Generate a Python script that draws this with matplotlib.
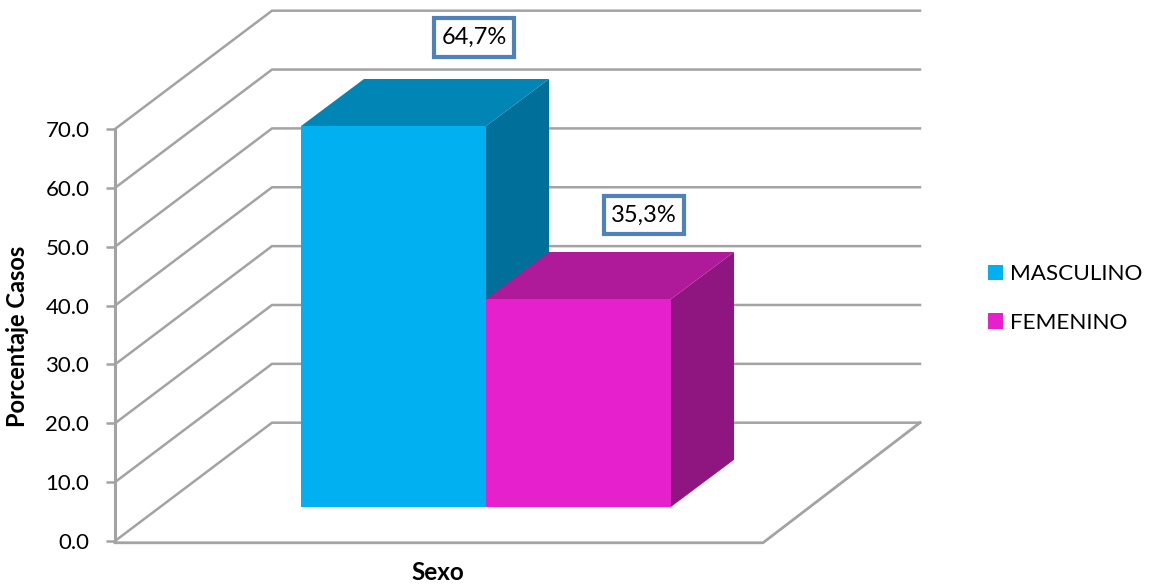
import matplotlib
matplotlib.use('Agg')
import matplotlib.pyplot as plt
from matplotlib.patches import FancyBboxPatch, Patch, Polygon

plt.rcParams['font.family'] = ['Lato', 'DejaVu Sans']

categorias = ['MASCULINO', 'FEMENINO']
porcentajes = [64.7, 35.3]
etiquetas = ['64,7%', '35,3%']
marcas_y = [0, 10, 20, 30, 40, 50, 60, 70]

# Colores de cada barra: frente, tapa y lateral
frente = ['#00B0F0', '#E520CC']
tapa = ['#0085B5', '#AE1A99']
lateral = ['#006F9A', '#8F1580']
gris = '#A3A3A3'

W, H = 1155, 585
fig = plt.figure(figsize=(W / 100, H / 100), dpi=100)

# El eje x va en pixeles, el eje y en porcentaje
ax = fig.add_axes([115 / W, 1 - 541 / H, 648 / W, 412 / H])
ax.set_xlim(0, 648)
ax.set_ylim(0, 70)

# Profundidad de las paredes y de las barras
fondo_x, fondo_y = 157, 20.1
prof_x, prof_y = 63, 8
base = 5.8
ancho = 185
inicio = 186
lab_dx = [173, 158]
lab_dy = [20.9, 20.1]
caja_w, caja_h = 80, 6.6

# Paredes del grafico
for v in marcas_y:
    ax.plot([0, fondo_x, 648 + fondo_x], [v, v + fondo_y, v + fondo_y],
            color=gris, lw=1.8, clip_on=False, zorder=1, solid_joinstyle='miter')
ax.plot([0, 648, 648 + fondo_x], [-0.3, -0.3, fondo_y],
        color=gris, lw=2.0, clip_on=False, zorder=1)

# Barras en perspectiva
for i, valor in enumerate(porcentajes):
    x0 = inicio + i * ancho
    x1 = x0 + ancho
    top = base + valor
    ax.add_patch(Polygon([(x1, base), (x1 + prof_x, base + prof_y),
                          (x1 + prof_x, top + prof_y), (x1, top)],
                         fc=lateral[i], ec='none', clip_on=False, zorder=2 + i))
    ax.add_patch(Polygon([(x0, top), (x1, top), (x1 + prof_x, top + prof_y),
                          (x0 + prof_x, top + prof_y)],
                         fc=tapa[i], ec='none', clip_on=False, zorder=2 + i))
    ax.add_patch(Polygon([(x0, base), (x1, base), (x1, top), (x0, top)],
                         fc=frente[i], ec='none', clip_on=False, zorder=2 + i))
    # Etiqueta con su caja azul
    lx, ly = x0 + lab_dx[i], valor + lab_dy[i]
    ax.add_patch(FancyBboxPatch((lx - caja_w / 2, ly - caja_h / 2), caja_w, caja_h,
                                boxstyle='square,pad=0', fc='white', ec='#4F81BD', lw=3,
                                clip_on=False, zorder=5))
    ax.text(lx, ly, etiquetas[i], ha='center', va='center',
            fontsize=17, color='black', zorder=6)

ax.set_xticks([])
ax.set_yticks(marcas_y)
ax.set_yticklabels([f'{v:.1f}' for v in marcas_y], fontsize=16, color='black')
ax.tick_params(axis='y', length=6.5, width=1.8, color=gris, pad=12)
ax.patch.set_alpha(0)
for lado in ['top', 'right', 'bottom']:
    ax.spines[lado].set_visible(False)
ax.spines['left'].set_color(gris)
ax.spines['left'].set_linewidth(2.2)

fig.text(18 / W, 1 - 336 / H, 'Porcentaje Casos', rotation=90, ha='center', va='center',
         fontsize=17, fontweight='bold')
fig.text(438 / W, 1 - 572 / H, 'Sexo', ha='center', va='center',
         fontsize=17.5, fontweight='bold')

# Leyenda
handles = [Patch(fc=c, ec='none') for c in frente]
fig.legend(handles, categorias, loc='center left', bbox_to_anchor=(979 / W, 1 - 298.5 / H),
           frameon=False, fontsize=16.2, handlelength=0.667, handleheight=0.667,
           handletextpad=0.31, labelspacing=1.27, borderpad=0.4, borderaxespad=0)

fig.savefig('out.png', dpi=100, facecolor='white')
